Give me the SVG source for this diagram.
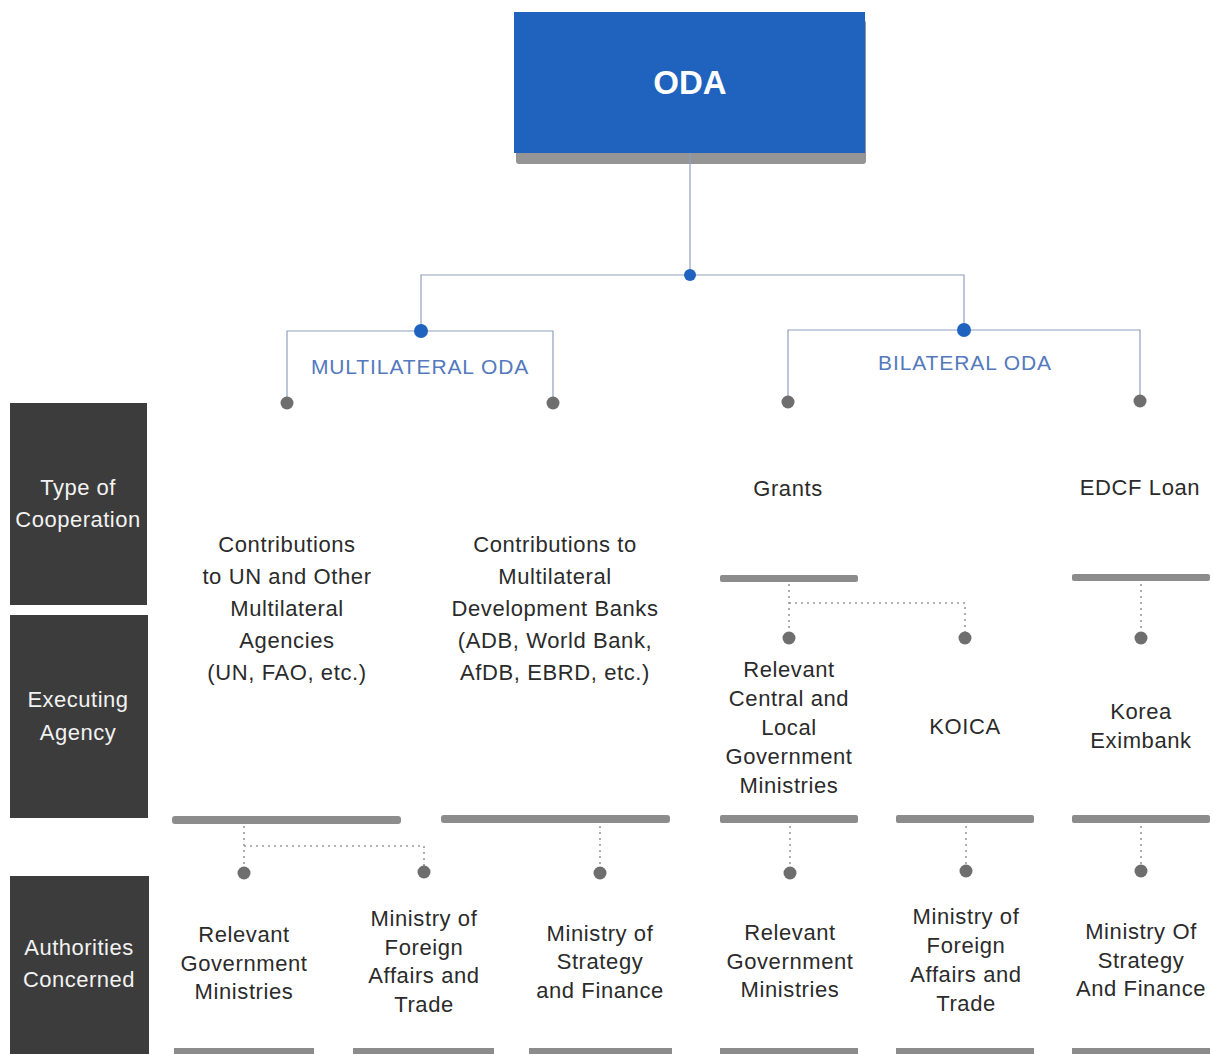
<svg xmlns="http://www.w3.org/2000/svg" width="1213" height="1054" viewBox="0 0 1213 1054">
<defs>
<style>
text{font-family:"Liberation Sans",Arial,sans-serif}
.t{font-size:22px;fill:#2b2b2b;text-anchor:middle;letter-spacing:0.6px}
.h{font-size:22px;fill:#f2f2f2;text-anchor:middle;letter-spacing:0.5px}
.lbl{font-size:21px;fill:#5479bd;text-anchor:middle;letter-spacing:0.9px}
.hd{fill:#3c3c3c}
.bar{fill:#8c8c8c}
.ln{stroke:#8fa0bd;stroke-width:1.2;fill:none}
.dot{stroke:#9a9a9a;stroke-width:1.6;stroke-dasharray:2 4;fill:none}
.bd{fill:#1f63be}
.gd{fill:#6e6e6e}
</style>
</defs>
<rect width="1213" height="1054" fill="#ffffff"/>

<g id="oda">
<rect x="516" y="20" width="350" height="144" rx="3" fill="#959595"/>
<rect x="514" y="12" width="351" height="141" fill="#1f63be"/>
<text x="690" y="94" font-size="33" font-weight="bold" fill="#ffffff" text-anchor="middle">ODA</text>
</g>

<g id="connectors">
<path class="ln" d="M690 153V275M421 331V275H964V330M287 403V331H553V403M788 402V330H1140V401"/>
<circle class="bd" cx="690" cy="275" r="6"/>
<circle class="bd" cx="421" cy="331" r="7"/>
<circle class="bd" cx="964" cy="330" r="7"/>
<circle class="gd" cx="287" cy="403" r="6.5"/>
<circle class="gd" cx="553" cy="403" r="6.5"/>
<circle class="gd" cx="788" cy="402" r="6.5"/>
<circle class="gd" cx="1140" cy="401" r="6.5"/>
<path class="dot" d="M789 584V632M789 603H965V632M1141 584V632"/>
<circle class="gd" cx="789" cy="638" r="6.5"/>
<circle class="gd" cx="965" cy="638" r="6.5"/>
<circle class="gd" cx="1141" cy="638" r="6.5"/>
<path class="dot" d="M244 826V866M244 846H424V866M600 826V866M790 826V866M966 826V864M1141 826V864"/>
<circle class="gd" cx="244" cy="873" r="6.5"/>
<circle class="gd" cx="424" cy="872" r="6.5"/>
<circle class="gd" cx="600" cy="873" r="6.5"/>
<circle class="gd" cx="790" cy="873" r="6.5"/>
<circle class="gd" cx="966" cy="871" r="6.5"/>
<circle class="gd" cx="1141" cy="871" r="6.5"/>
</g>

<g id="multilateral-label"><text class="lbl" x="420" y="374">MULTILATERAL ODA</text></g>
<g id="bilateral-label"><text class="lbl" x="965" y="370">BILATERAL ODA</text></g>

<g id="hdr-type">
<rect class="hd" x="10" y="403" width="137" height="202"/>
<text class="h" x="78" y="495">Type of</text>
<text class="h" x="78" y="527">Cooperation</text>
</g>
<g id="hdr-exec">
<rect class="hd" x="10" y="615" width="138" height="203"/>
<text class="h" x="78" y="707">Executing</text>
<text class="h" x="78" y="740">Agency</text>
</g>
<g id="hdr-auth">
<rect class="hd" x="10" y="876" width="139" height="178"/>
<text class="h" x="79" y="955">Authorities</text>
<text class="h" x="79" y="987">Concerned</text>
</g>

<g id="contrib-un">
<text class="t" x="287" y="552">Contributions</text>
<text class="t" x="287" y="584">to UN and Other</text>
<text class="t" x="287" y="616">Multilateral</text>
<text class="t" x="287" y="648">Agencies</text>
<text class="t" x="287" y="680">(UN, FAO, etc.)</text>
</g>
<g id="contrib-mdb">
<text class="t" x="555" y="552">Contributions to</text>
<text class="t" x="555" y="584">Multilateral</text>
<text class="t" x="555" y="616">Development Banks</text>
<text class="t" x="555" y="648">(ADB, World Bank,</text>
<text class="t" x="555" y="680">AfDB, EBRD, etc.)</text>
</g>
<g id="grants">
<text class="t" x="788" y="496">Grants</text>
<rect class="bar" x="720" y="575" width="138" height="7" rx="2"/>
</g>
<g id="edcf">
<text class="t" x="1140" y="495">EDCF Loan</text>
<rect class="bar" x="1072" y="574" width="138" height="7" rx="2"/>
</g>

<g id="bars-row2">
<rect class="bar" x="172" y="816" width="229" height="8" rx="3"/>
<rect class="bar" x="441" y="815" width="229" height="8" rx="3"/>
<rect class="bar" x="720" y="815" width="138" height="8" rx="2"/>
<rect class="bar" x="896" y="815" width="138" height="8" rx="2"/>
<rect class="bar" x="1072" y="815" width="138" height="8" rx="2"/>
</g>

<g id="exec-central">
<text class="t" x="789" y="677">Relevant</text>
<text class="t" x="789" y="706">Central and</text>
<text class="t" x="789" y="735">Local</text>
<text class="t" x="789" y="764">Government</text>
<text class="t" x="789" y="793">Ministries</text>
</g>
<g id="exec-koica"><text class="t" x="965" y="734">KOICA</text></g>
<g id="exec-exim">
<text class="t" x="1141" y="719">Korea</text>
<text class="t" x="1141" y="748">Eximbank</text>
</g>

<g id="auth-1">
<text class="t" x="244" y="942">Relevant</text>
<text class="t" x="244" y="971">Government</text>
<text class="t" x="244" y="999">Ministries</text>
</g>
<g id="auth-2">
<text class="t" x="424" y="926">Ministry of</text>
<text class="t" x="424" y="955">Foreign</text>
<text class="t" x="424" y="983">Affairs and</text>
<text class="t" x="424" y="1012">Trade</text>
</g>
<g id="auth-3">
<text class="t" x="600" y="941">Ministry of</text>
<text class="t" x="600" y="969">Strategy</text>
<text class="t" x="600" y="998">and Finance</text>
</g>
<g id="auth-4">
<text class="t" x="790" y="940">Relevant</text>
<text class="t" x="790" y="969">Government</text>
<text class="t" x="790" y="997">Ministries</text>
</g>
<g id="auth-5">
<text class="t" x="966" y="924">Ministry of</text>
<text class="t" x="966" y="953">Foreign</text>
<text class="t" x="966" y="982">Affairs and</text>
<text class="t" x="966" y="1011">Trade</text>
</g>
<g id="auth-6">
<text class="t" x="1141" y="939">Ministry Of</text>
<text class="t" x="1141" y="968">Strategy</text>
<text class="t" x="1141" y="996">And Finance</text>
</g>

<g id="bars-bottom">
<rect class="bar" x="174" y="1048" width="140" height="8"/>
<rect class="bar" x="353" y="1048" width="141" height="8"/>
<rect class="bar" x="529" y="1048" width="143" height="8"/>
<rect class="bar" x="720" y="1048" width="138" height="8"/>
<rect class="bar" x="896" y="1048" width="138" height="8"/>
<rect class="bar" x="1072" y="1048" width="138" height="8"/>
</g>
</svg>
